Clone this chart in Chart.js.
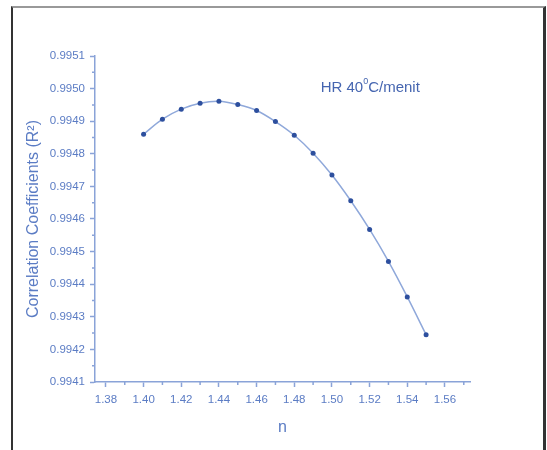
<!DOCTYPE html>
<html>
<head>
<meta charset="utf-8">
<script src="https://cdn.jsdelivr.net/npm/chart.js@4.4.0/dist/chart.umd.min.js"></script>
<style>
  body { margin: 0; background: #fff; }
  #frame {
    position: absolute; left: 11px; top: 6px; width: 530px; height: 460px;
    border-left: 2px solid #333; border-top: 2px solid #999; border-right: 3px solid #333;
  }
  #chart { position: absolute; left: 0; top: 0; }
</style>
</head>
<body>
<div id="frame"></div>
<canvas id="chart" width="547" height="450"></canvas>
<script>
// n values and R^2 values
const nValues = [1.40, 1.41, 1.42, 1.43, 1.44, 1.45, 1.46, 1.47, 1.48, 1.49, 1.50, 1.51, 1.52, 1.53, 1.54, 1.55];
const r2Values = [0.99486, 0.994906, 0.994937, 0.994955, 0.994961, 0.994951, 0.994933, 0.994899,
                  0.994857, 0.994802, 0.994735, 0.994656, 0.994568, 0.99447, 0.994361, 0.994245];

// tick labels
const xTicks = [1.38, 1.40, 1.42, 1.44, 1.46, 1.48, 1.50, 1.52, 1.54, 1.56];
const yTicks = [0.9941, 0.9942, 0.9943, 0.9944, 0.9945, 0.9946, 0.9947, 0.9948, 0.9949, 0.9950, 0.9951];

const axisColor = '#8aa3d8';
const labelColor = '#5b7cc4';

Chart.defaults.font.family = '"Liberation Sans", Arial, sans-serif';

// Origin style: small minor ticks half way between the labelled ones
const minorTicks = {
    id: 'minorTicks',
    afterDraw(chart) {
        const ctx = chart.ctx;
        const xs = chart.scales.x, ys = chart.scales.y;
        ctx.save();
        ctx.strokeStyle = axisColor;
        ctx.lineWidth = 1.5;
        ctx.beginPath();
        xTicks.map(v => v + 0.01).filter(v => v <= xs.max).forEach(v => {
            const px = xs.getPixelForValue(v);
            ctx.moveTo(px, ys.bottom);
            ctx.lineTo(px, ys.bottom + 3);
        });
        yTicks.map(v => v + 0.00005).filter(v => v <= ys.max).forEach(v => {
            const py = ys.getPixelForValue(v);
            ctx.moveTo(xs.left, py);
            ctx.lineTo(xs.left - 3, py);
        });
        ctx.stroke();
        ctx.restore();
    }
};

// "HR 40°C/menit" note inside the plot
const note = {
    id: 'note',
    afterDraw(chart) {
        const ctx = chart.ctx;
        let x = chart.scales.x.getPixelForValue(1.494);
        const y = chart.scales.y.getPixelForValue(0.995002);
        ctx.save();
        ctx.fillStyle = '#4565b0';
        ctx.textBaseline = 'middle';
        ctx.font = '15px "Liberation Sans", Arial, sans-serif';
        ctx.fillText('HR 40', x, y);
        x += ctx.measureText('HR 40').width;
        ctx.font = '9px "Liberation Sans", Arial, sans-serif';
        ctx.fillText('0', x, y - 6);
        x += ctx.measureText('0').width;
        ctx.font = '15px "Liberation Sans", Arial, sans-serif';
        ctx.fillText('C/menit', x, y);
        ctx.restore();
    }
};

const ctx = document.getElementById('chart').getContext('2d');
new Chart(ctx, {
    type: 'scatter',
    data: {
        datasets: [{
            data: nValues.map((n, i) => ({ x: n, y: r2Values[i] })),
            showLine: true,
            borderColor: '#8fa8da',
            borderWidth: 1.5,
            tension: 0.3,
            pointRadius: 2.5,
            pointBackgroundColor: '#2d4f9e',
            pointBorderWidth: 0
        }]
    },
    options: {
        responsive: false,
        animation: false,
        layout: { padding: { left: 0, top: 56, right: 77, bottom: 0 } },
        plugins: { legend: { display: false }, tooltip: { enabled: false } },
        scales: {
            x: {
                type: 'linear',
                min: 1.3742,
                max: 1.5733,
                afterBuildTicks: s => { s.ticks = xTicks.map(v => ({ value: v })); },
                afterFit: s => { s.height = 68; },
                border: { color: axisColor, width: 1.5 },
                grid: { drawOnChartArea: false, drawTicks: true, tickLength: 5, tickColor: axisColor, tickWidth: 1.5 },
                ticks: { color: labelColor, font: { size: 11.5 }, padding: 6, maxRotation: 0,
                         callback: v => v.toFixed(2) },
                title: { display: true, text: 'n', color: labelColor, font: { size: 16 }, padding: { top: 0, bottom: 13 } }
            },
            y: {
                type: 'linear',
                min: 0.9941,
                max: 0.9951,
                afterBuildTicks: s => { s.ticks = yTicks.map(v => ({ value: v })); },
                afterFit: s => { s.width = 95; },
                border: { color: axisColor, width: 1.5 },
                grid: { drawOnChartArea: false, drawTicks: true, tickLength: 5, tickColor: axisColor, tickWidth: 1.5 },
                ticks: { color: labelColor, font: { size: 11.5 }, padding: 5,
                         callback: v => v.toFixed(4) },
                title: { display: true, text: 'Correlation Coefficients (R²)', color: labelColor,
                         font: { size: 16 }, padding: { top: 24, bottom: 0 } }
            }
        }
    },
    plugins: [minorTicks, note]
});
</script>
</body>
</html>
